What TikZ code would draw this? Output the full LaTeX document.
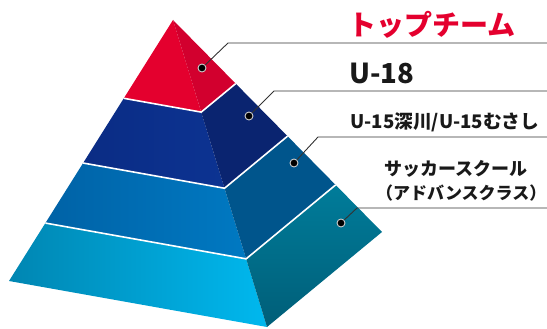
\documentclass[tikz,border=0pt]{standalone}
\usepackage{fontspec}
\newfontfamily\cjk{Noto Sans CJK JP Black}
\usetikzlibrary{calc}
\definecolor{redF}{HTML}{E4002E}
\definecolor{redR}{HTML}{D2002E}
\definecolor{navyFL}{HTML}{0B2C84}
\definecolor{navyFR}{HTML}{0C3392}
\definecolor{navyR}{HTML}{0A2470}
\definecolor{blueFL}{HTML}{0062A6}
\definecolor{blueFR}{HTML}{0079C2}
\definecolor{blueR}{HTML}{00558C}
\definecolor{cyanFL}{HTML}{0086B2}
\definecolor{cyanFR}{HTML}{00B8EE}
\definecolor{cyanRT}{HTML}{007C9A}
\definecolor{cyanRB}{HTML}{005E78}
\definecolor{leadgray}{HTML}{333333}
\tikzset{
  sep/.style={draw=white,line width=1.6pt,line join=miter},
  dot/.style={circle,fill=black,draw=white!60!gray,line width=0.9pt,inner sep=0pt,minimum size=8pt},
  leader/.style={draw=leadgray,line width=0.9pt},
  lbl/.style={anchor=west,inner sep=0pt,text=black!90},
}
\begin{document}
\begin{tikzpicture}[x=1pt,y=-1pt]
\useasboundingbox (0,0) rectangle (547,329);
\coordinate (A) at (173,20);
\coordinate (L) at (9,281);
\coordinate (F) at (267,327);
\coordinate (R) at (382,232);
\foreach \n/\t in {1/0.3,2/0.548,3/0.778}{
  \coordinate (L\n) at ($(A)!\t!(L)$);
  \coordinate (F\n) at ($(A)!\t!(F)$);
  \coordinate (R\n) at ($(A)!\t!(R)$);
}
% tier 1
\fill[redF] (A) -- (L1) -- (F1) -- cycle;
\fill[redR] (A) -- (F1) -- (R1) -- cycle;
% tier 2
\shade[left color=navyFL,right color=navyFR] (L1) -- (L2) -- (F2) -- (F1) -- cycle;
\fill[navyR] (F1) -- (F2) -- (R2) -- (R1) -- cycle;
% tier 3
\shade[left color=blueFL,right color=blueFR] (L2) -- (L3) -- (F3) -- (F2) -- cycle;
\fill[blueR] (F2) -- (F3) -- (R3) -- (R2) -- cycle;
% tier 4
\shade[left color=cyanFL,right color=cyanFR] (L3) -- (L) -- (F) -- (F3) -- cycle;
\shade[top color=cyanRT,bottom color=cyanRB] (F3) -- (F) -- (R) -- (R3) -- cycle;
% separators
\foreach \n in {1,2,3}{
  \draw[sep] (L\n) -- (F\n) -- (R\n);
}
% dots and leaders
\node[dot] (d1) at (202,68) {};
\node[dot] (d2) at (249,116) {};
\node[dot] (d3) at (294,163) {};
\node[dot] (d4) at (341,223) {};
\coordinate (k1) at (228,43);  \coordinate (e1) at (547,43);
\coordinate (k2) at (274,91);  \coordinate (e2) at (547,91);
\coordinate (k3) at (318,137); \coordinate (e3) at (547,137);
\coordinate (k4) at (357,208); \coordinate (e4) at (547,208);
\foreach \n in {1,2,3,4}{
  \draw[leader] (d\n) -- (k\n) -- (e\n);
}
% labels
\node[lbl,text=redF,font=\cjk\fontsize{28}{30}\selectfont] (t1) at (348,25) {トップチーム};
\node[lbl,font=\cjk\fontsize{27.5}{30}\selectfont] (t2) at (349,73) {U-18};
\node[lbl,font=\cjk\fontsize{18.7}{22}\selectfont] (t3) at (350,122) {U-15深川/U-15むさし};
\node[lbl,font=\cjk\fontsize{18}{20}\selectfont] (t4) at (384,169) {サッカースクール};
\node[lbl,font=\cjk\fontsize{17}{20}\selectfont] (t5) at (376,193) {（アドバンスクラス）};
\end{tikzpicture}
\end{document}
